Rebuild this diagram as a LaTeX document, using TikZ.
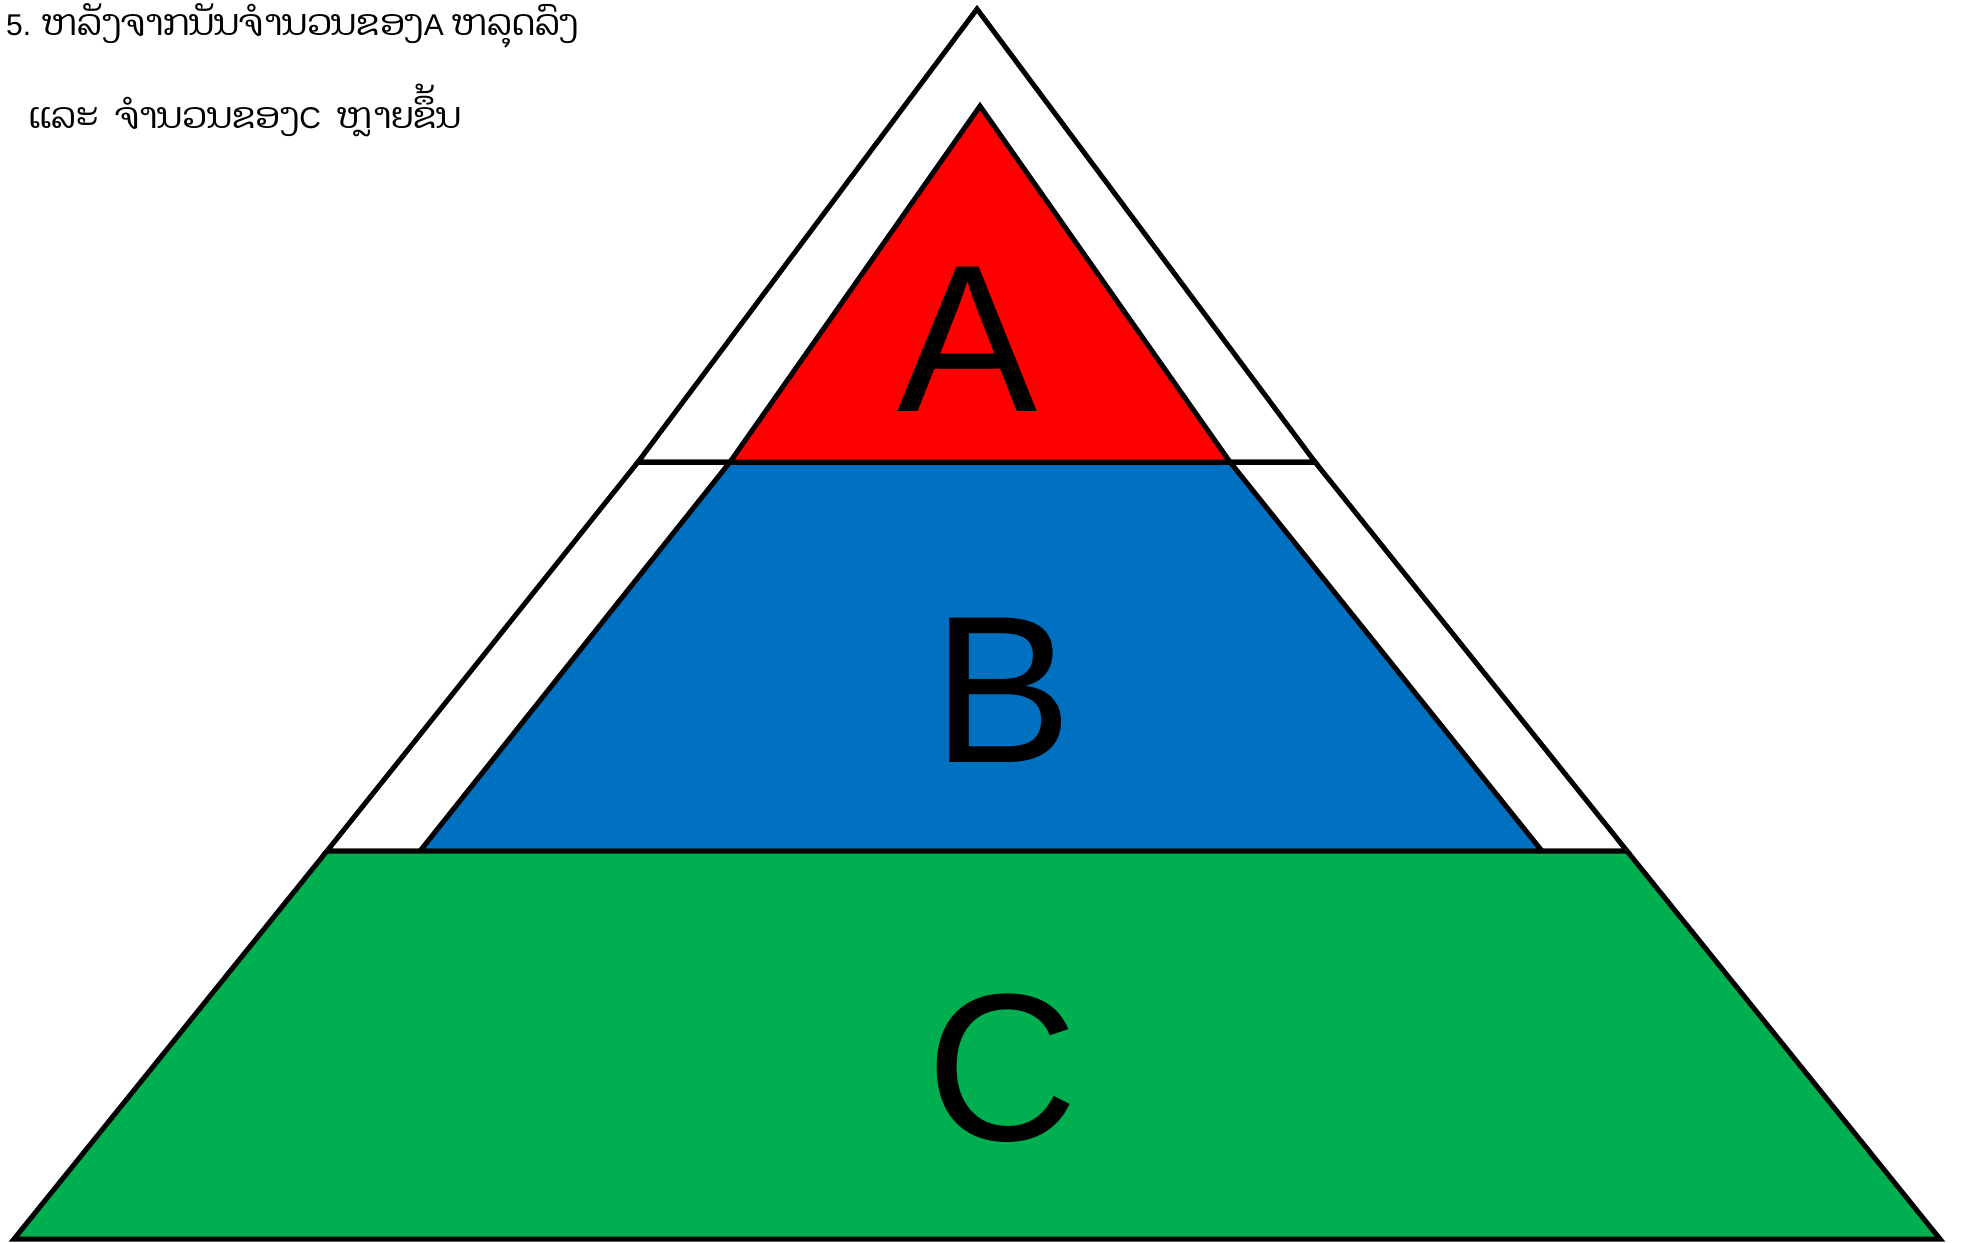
\documentclass[tikz,border=0pt]{standalone}
\usepackage{fontspec}
\setmainfont{Liberation Sans}
\newfontfamily\laofont[Script=Lao,Scale=1.2]{Dhyana}
\newfontfamily\latinfont{Liberation Sans}
\definecolor{cred}{HTML}{FF0000}
\definecolor{cblue}{HTML}{0070C0}
\definecolor{cgreen}{HTML}{00B050}
\begin{document}
\begin{tikzpicture}[x=1pt,y=-1pt,
  layer/.style={draw=black,line width=5pt,line join=miter},
  big/.style={font=\latinfont\fontsize{210}{210}\selectfont,inner sep=0pt},
  caption/.style={anchor=base west,inner sep=0pt,font=\fontsize{30}{30}\selectfont}]
\useasboundingbox (0,0) rectangle (1962,1242);
% coordinates
\coordinate (apex) at (977,9);
\coordinate (ul) at (638,462);
\coordinate (ur) at (1315,462);
\coordinate (ml) at (327,851);
\coordinate (mr) at (1627,851);
\coordinate (bl) at (14,1239);
\coordinate (br) at (1940,1239);
\coordinate (ra) at (980,106);
\coordinate (rl) at (730,462);
\coordinate (rr) at (1230,462);
\coordinate (bbl) at (420,851);
\coordinate (bbr) at (1542,851);
% outer shapes
\draw[layer,fill=white] (apex) -- (ur) -- (ul) -- cycle;
\draw[layer,fill=white] (ul) -- (ur) -- (mr) -- (ml) -- cycle;
\draw[layer,fill=cblue] (rl) -- (rr) -- (bbr) -- (bbl) -- cycle;
\draw[layer,fill=cred] (ra) -- (rr) -- (rl) -- cycle;
\draw[layer,fill=cgreen] (ml) -- (mr) -- (br) -- (bl) -- cycle;
\draw[layer] (ul) -- (ur);
% letters
\node[big] (A) at (968,339) {A};
\node[big] (B) at (1003,690) {B};
\node[big] (C) at (1002,1068) {C};
% caption
\node[caption] (t1) at (6,35) {{\latinfont 5. }{\laofont ຫລັງຈາກນັນຈຳນວນຂອງ}{\latinfont A} {\laofont ຫລຸດລົງ}};
\node[caption] (t2) at (28,128) {{\laofont ແລະ}\ \ {\laofont ຈຳນວນຂອງ}{\latinfont C}\ \ {\laofont ຫຼາຍຂຶ້ນ}};
\end{tikzpicture}
\end{document}
